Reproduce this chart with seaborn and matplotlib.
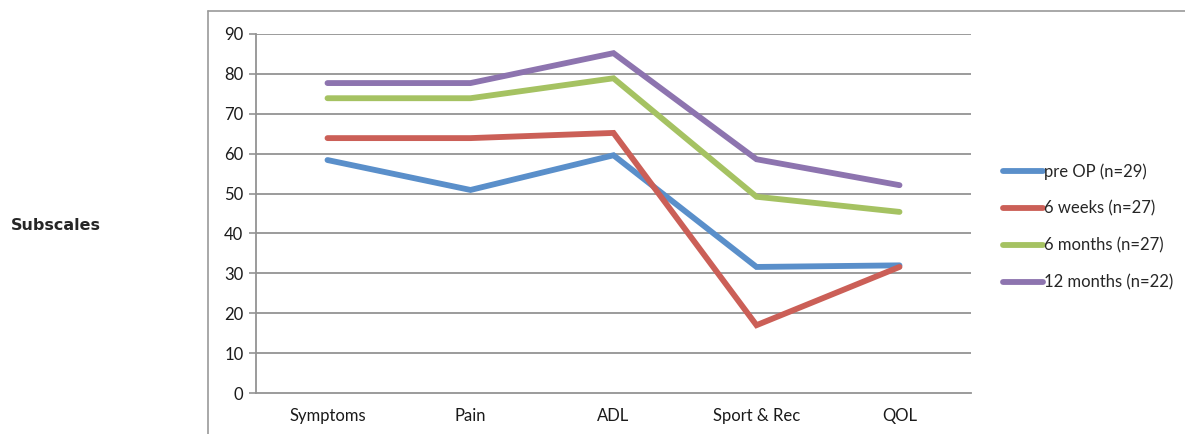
import matplotlib
matplotlib.use("Agg")
import matplotlib.pyplot as plt
from matplotlib.lines import Line2D
import seaborn as sns
import pandas as pd

categories = ["Symptoms", "Pain", "ADL", "Sport & Rec", "QOL"]
pre_op = [58.4, 50.9, 59.6, 31.6, 32.0]
weeks_6 = [63.9, 63.9, 65.2, 17.0, 31.6]
months_6 = [73.9, 73.9, 78.9, 49.2, 45.4]
months_12 = [77.7, 77.7, 85.2, 58.6, 52.1]
series_names = ["pre OP (n=29)", "6 weeks (n=27)", "6 months (n=27)", "12 months (n=22)"]
y_ticks = [0, 10, 20, 30, 40, 50, 60, 70, 80, 90]
colors = ["#5A8FCA", "#CB5F57", "#A5C262", "#8D74AF"]

rows = []
for name, vals in zip(series_names, [pre_op, weeks_6, months_6, months_12]):
    for i, (c, v) in enumerate(zip(categories, vals)):
        rows.append({"pos": i, "Subscale": c, "Score": v, "Group": name})
df = pd.DataFrame(rows)

sns.set_theme(style="white")
plt.rcParams["font.family"] = ["Lato", "DejaVu Sans"]

fig = plt.figure(figsize=(11.85, 4.34), dpi=100)
ax = fig.add_axes([256/1185, 41/434, 715/1185, 359/434])

sns.lineplot(data=df, x="pos", y="Score", hue="Group", hue_order=series_names,
             palette=colors, linewidth=4.2, sort=False, ax=ax, legend=True,
             solid_capstyle="round", solid_joinstyle="miter")

grid_c = "#939393"
fs = 12
ax.set_xlim(-0.5, 4.5)
ax.set_ylim(0, 90)
ax.set_yticks(y_ticks)
ax.set_yticklabels([str(t) for t in y_ticks], fontsize=fs, color="#1a1a1a")
for t in y_ticks[1:]:
    ax.axhline(t, color=grid_c, lw=1.3, zorder=0)
ax.set_xticks(range(len(categories)))
ax.set_xticklabels(categories, fontsize=fs, color="#1a1a1a")
ax.set_xticks([i - 0.5 for i in range(len(categories) + 1)], minor=True)
ax.tick_params(axis="x", which="major", length=0, pad=11)
ax.tick_params(axis="x", which="minor", length=5, width=1.2, color=grid_c, direction="out")
ax.tick_params(axis="y", length=5, width=1.2, color=grid_c, direction="out", pad=4, left=True)
ax.set_xlabel("")
ax.set_ylabel("")
for s in ["top", "right"]:
    ax.spines[s].set_visible(False)
for s in ["left", "bottom"]:
    ax.spines[s].set_color(grid_c)
    ax.spines[s].set_linewidth(1.3)

handles, labels = ax.get_legend_handles_labels()
if ax.legend_:
    ax.legend_.remove()
leg = fig.legend(handles, labels, loc="center left", bbox_to_anchor=(988/1185, 207/434),
                 frameon=False, fontsize=fs, handlelength=2.4, handletextpad=0.05,
                 labelspacing=1.25)
for h in leg.get_lines():
    h.set_linewidth(4.2)
    h.set_solid_capstyle("round")

fig.text(11/1185, 208/434, "Subscales", fontsize=11.5, fontweight="bold", va="center",
         ha="left", family="DejaVu Sans")

fx = 207.5/1185
fy = (434-10.5)/434
fig.add_artist(Line2D([fx, fx], [0, fy], transform=fig.transFigure, color="#9A9A9A", lw=1.2))
fig.add_artist(Line2D([fx, 1], [fy, fy], transform=fig.transFigure, color="#9A9A9A", lw=1.2))

fig.savefig("out.png", dpi=100)
